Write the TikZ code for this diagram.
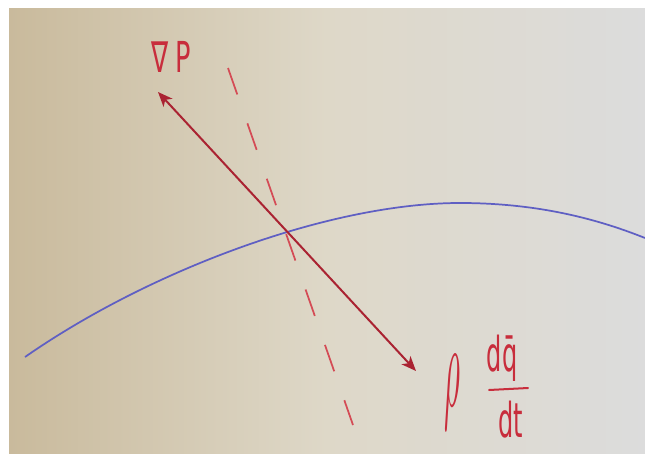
\documentclass[tikz,border=0pt]{standalone}
\usepackage{fontspec}
\setmainfont{DejaVu Sans}
\usetikzlibrary{arrows.meta}
\definecolor{paperL}{RGB}{201,186,156}
\definecolor{paperM}{RGB}{222,216,200}
\definecolor{paperR}{RGB}{220,220,220}
\definecolor{inkred}{RGB}{200,45,60}
\definecolor{dashred}{RGB}{212,75,85}
\definecolor{arrred}{RGB}{170,35,50}
\definecolor{inkblue}{RGB}{95,95,195}
\begin{document}
\begin{tikzpicture}[x=0.75pt,y=-0.75pt,
  handtext/.style={text=inkred, inner sep=0pt, font=\fontsize{32}{32}\selectfont},
  fractext/.style={text=inkred, inner sep=0pt, font=\fontsize{36}{36}\selectfont},
  vecline/.style={draw=arrred, line width=1.5pt,
    {Stealth[length=11pt,width=9pt,inset=3pt]}-{Stealth[length=11pt,width=9pt,inset=3pt]}},
  normline/.style={draw=dashred, line width=1.3pt, dash pattern=on 21pt off 23pt},
  surface/.style={draw=inkblue, line width=1.3pt},
  fracbar/.style={draw=inkred, line width=1.5pt, line cap=round}
]
\useasboundingbox (0,0) rectangle (645,453);
\fill[white] (0,0) rectangle (645,453);
\shade[left color=paperL, right color=paperR, middle color=paperM] (9,9) rectangle (645,453);

% surface curve
\draw[surface] (25,357) .. controls (150,270) and (330,203) .. (460,203)
  .. controls (540,203) and (600,220) .. (645,238);

% dashed line
\coordinate (dTop) at (228,68);
\coordinate (dBot) at (353,425);
\draw[normline] (dTop) -- (dBot);

% double arrow
\coordinate (gradTip) at (158,92);
\coordinate (accTip) at (416,371);
\draw[vecline] (gradTip) -- (accTip);

% labels
\node[handtext] (gradP) at (171,57) {\scalebox{0.6}[1]{∇\hspace{8pt}P}};
\node[text=inkred, inner sep=0pt] (rho) at (452,392) {\scalebox{2.3}[9]{$\rho$}};
\node[fractext] (num) at (502,358) {\scalebox{0.5}[1]{dq̄}};
\coordinate (barL) at (489,390);
\coordinate (barR) at (528,388);
\draw[fracbar] (barL) -- (barR);
\node[fractext] (den) at (511,420) {\scalebox{0.5}[1]{dt}};
\end{tikzpicture}
\end{document}
